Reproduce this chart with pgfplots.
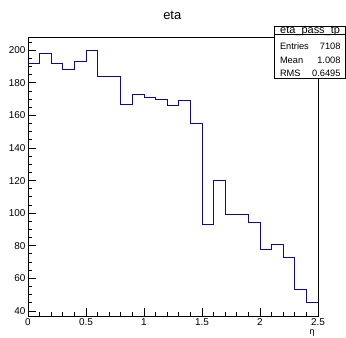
\documentclass[border=0pt]{standalone}
\usepackage{fontspec}
\setmainfont{Liberation Sans}
\usepackage{pgfplots}
\pgfplotsset{compat=1.18}
\definecolor{histblue}{RGB}{10,10,160}
\begin{document}
\begin{tikzpicture}[x=1bp,y=1bp]
\useasboundingbox (0,0) rectangle (346,338);
\fill[white] (0,0) rectangle (346,338);
\begin{axis}[
  at={(28bp,22bp)}, anchor=south west,
  scale only axis, width=290bp, height=279bp,
  xmin=0, xmax=2.5, ymin=36.9, ymax=208.2,
  axis line style={black, line width=0.9bp},
  tick align=inside,
  xtick pos=left, ytick pos=left,
  xtick={0,0.5,1,1.5,2,2.5},
  xticklabels={0,0.5,1,1.5,2,2.5},
  minor xtick={0.1,0.2,0.3,0.4,0.6,0.7,0.8,0.9,1.1,1.2,1.3,1.4,1.6,1.7,1.8,1.9,2.1,2.2,2.3,2.4},
  ytick={40,60,80,100,120,140,160,180,200},
  yticklabels={40,60,80,100,120,140,160,180,200},
  minor ytick={45,50,55,65,70,75,85,90,95,105,110,115,125,130,135,145,150,155,165,170,175,185,190,195,205},
  major tick length=8bp, minor tick length=4bp,
  every tick/.style={black, line width=0.9bp},
  ticklabel style={font=\fontsize{10}{12}\selectfont},
  xticklabel style={yshift=1bp},
  yticklabel style={xshift=1bp},
  /pgf/number format/assume math mode=true,
  clip=false,
]
\addplot[const plot, color=histblue, line width=1bp] coordinates {
(0,192) (0.1,198) (0.2,192) (0.3,188) (0.4,193) (0.5,200) (0.6,184) (0.7,184)
(0.8,167) (0.9,173) (1.0,171) (1.1,170) (1.2,166) (1.3,169) (1.4,155)
(1.5,93) (1.6,120) (1.7,99) (1.8,99) (1.9,94) (2.0,78) (2.1,81) (2.2,73)
(2.3,53) (2.4,45) (2.5,45)};
\end{axis}
% title
\node[font=\fontsize{13}{15}\selectfont] at (172.3,338-15) {eta};
% x label
\node[font=\fontsize{9}{11}\selectfont] at (312,338-333) {η};
% stats box
\fill[black] (275.7,338-79.5) rectangle (346.5,338-27);
\draw[fill=white, line width=0.8bp] (274.7,338-78.5) rectangle (345.5,338-26);
\draw[line width=0.8bp] (274.7,338-34.7) -- (345.5,338-34.7);
\node[font=\fontsize{11}{12}\selectfont] at (310.1,338-30.6) {eta\_pass\_tp};
\node[anchor=west, font=\fontsize{9.3}{11}\selectfont] at (276.5,338-46.3) {Entries};
\node[anchor=east, font=\fontsize{9.3}{11}\selectfont] at (344,338-46.3) {7108};
\node[anchor=west, font=\fontsize{9.3}{11}\selectfont] at (276.5,338-60) {Mean};
\node[anchor=east, font=\fontsize{9.3}{11}\selectfont] at (344,338-60) {1.008};
\node[anchor=west, font=\fontsize{9.3}{11}\selectfont] at (276.5,338-73.8) {RMS};
\node[anchor=east, font=\fontsize{9.3}{11}\selectfont] at (344,338-73.8) {0.6495};
\end{tikzpicture}
\end{document}
